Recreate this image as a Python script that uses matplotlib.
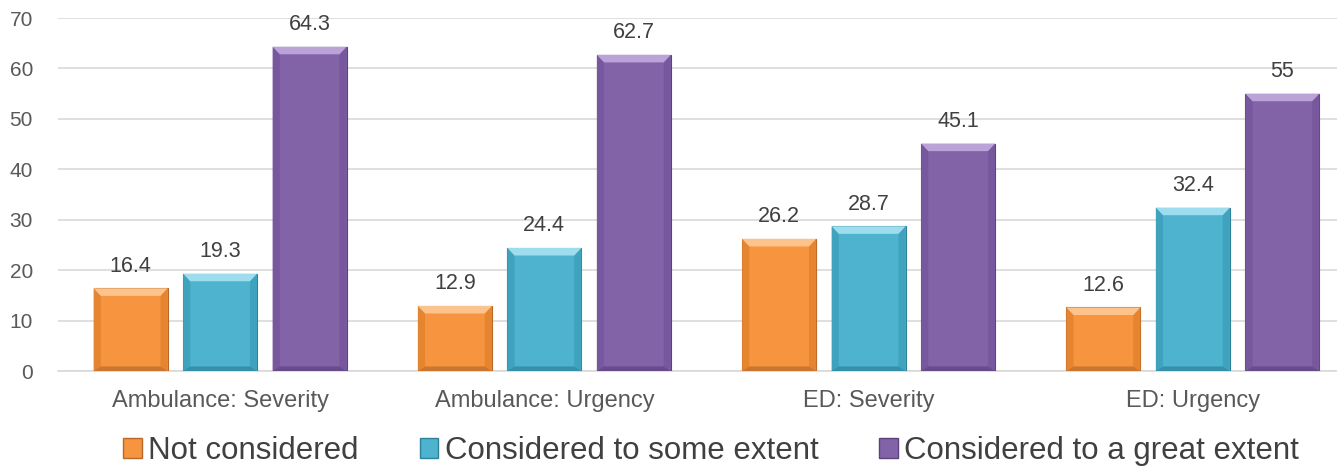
import numpy as np
import matplotlib.pyplot as plt
from matplotlib.patches import Patch, Polygon

plt.rcParams['font.family'] = ['Liberation Sans', 'DejaVu Sans']

# Categories and series
Groups = ["Ambulance: Severity", "Ambulance: Urgency", "ED: Severity", "ED: Urgency"]
Series = ["Not considered", "Considered to some extent", "Considered to a great extent"]
Not_considered = [16.4, 12.9, 26.2, 12.6]
Some_extent = [19.3, 24.4, 28.7, 32.4]
Great_extent = [64.3, 62.7, 45.1, 55]
Values = [Not_considered, Some_extent, Great_extent]

# face, bevel highlight, side shade, bottom shade
Colors = ['#F7943F', '#4DB3CF', '#8363A8']
Lights = ['#FCC48C', '#9EDDEE', '#BBA3D8']
Sides = ['#E58530', '#40A3BE', '#77589E']
Shades = ['#B8692A', '#2E8199', '#5C427E']

fig = plt.figure(figsize=(13.37, 4.73), dpi=100)
ax = fig.add_axes([58/1337, 102/473, 1297/1337, 353/473])

x = np.arange(len(Groups))
w = 0.228
step = 0.276
bx = 0.022   # bevel width in x units
by = 1.5     # bevel height in y units


def bevel_bar(ax, cx, v, i):
    l, r = cx - w / 2, cx + w / 2
    ax.bar(cx, v, w, color=Colors[i], edgecolor=Shades[i], linewidth=0.8, zorder=3)
    top = [(l, v), (r, v), (r - bx, v - by), (l + bx, v - by)]
    bot = [(l, 0), (r, 0), (r - bx, by * 0.6), (l + bx, by * 0.6)]
    left = [(l, 0), (l, v), (l + bx, v - by), (l + bx, by * 0.6)]
    right = [(r, 0), (r, v), (r - bx, v - by), (r - bx, by * 0.6)]
    ax.add_patch(Polygon(left, closed=True, color=Sides[i], lw=0, zorder=4))
    ax.add_patch(Polygon(right, closed=True, color=Sides[i], lw=0, zorder=4))
    ax.add_patch(Polygon(bot, closed=True, color=Shades[i], lw=0, alpha=0.7, zorder=4))
    ax.add_patch(Polygon(top, closed=True, color=Lights[i], lw=0, zorder=4))


for i in range(3):
    pos = x + (i - 1) * step
    for px, v in zip(pos, Values[i]):
        bevel_bar(ax, px, v, i)
        ax.annotate(f"{v:g}", (px, v), xytext=(0, 12), textcoords='offset points',
                    ha='center', va='baseline', fontsize=15.5, color='#404040')

ax.set_xlim(-0.5, 3.5)
ax.set_ylim(0, 70)
ax.set_yticks(range(0, 71, 10))
ax.set_xticks(x)
ax.set_xticklabels(Groups)
ax.tick_params(axis='both', length=0, colors='#595959')
ax.tick_params(axis='x', pad=14, labelsize=17)
ax.tick_params(axis='y', pad=18, labelsize=15)
ax.grid(axis='y', color='#D9D9D9', linewidth=1.2, zorder=0)
for s in ['top', 'right', 'left']:
    ax.spines[s].set_visible(False)
ax.spines['bottom'].set_color('#D9D9D9')
ax.spines['bottom'].set_linewidth(1.2)

handles = [Patch(facecolor=Colors[i], edgecolor=Shades[i], label=Series[i]) for i in range(3)]
fig.legend(handles=handles, loc='lower center', bbox_to_anchor=(0.532, -0.045), ncol=3,
           frameon=False, fontsize=22.5, handlelength=0.6, handleheight=0.6,
           handletextpad=0.2, columnspacing=1.95, labelcolor='#404040')

fig.savefig('out.png', dpi=100)
